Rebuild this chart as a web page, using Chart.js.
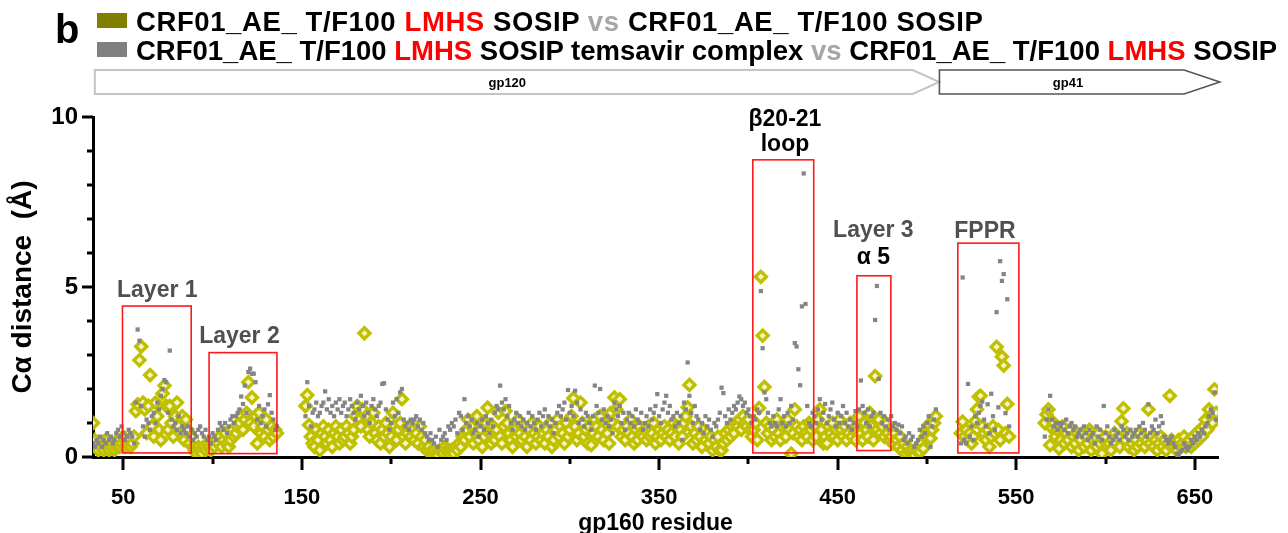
<!DOCTYPE html>
<html>
<head>
<meta charset="utf-8">
<script src="https://cdn.jsdelivr.net/npm/chart.js@4.4.1/dist/chart.umd.min.js"></script>
<style>
body{margin:0;background:#fff;width:1288px;height:533px;overflow:hidden;position:relative;font-family:"Liberation Sans",Arial,sans-serif;}
#wrap{position:absolute;left:0;top:0;width:1288px;height:533px;}
.panel{position:absolute;left:55px;top:9px;font-size:40px;font-weight:bold;line-height:1;}
.sw{position:absolute;left:97px;width:30px;height:15px;}
.leg{position:absolute;left:136px;font-size:27.5px;font-weight:bold;line-height:1;white-space:nowrap;color:#000;}
.leg .red{color:#ff0000;}
.leg .vs{color:#a6a6a6;}
</style>
</head>
<body>
<div id="wrap"><canvas id="myChart" width="1288" height="533"></canvas></div>
<div class="panel">b</div>
<div class="sw" style="top:13px;background:#808000"></div>
<div class="sw" style="top:42px;background:#808080"></div>
<div class="leg" style="top:8px;letter-spacing:0.6px">CRF01_AE_ T/F100 <span class="red">LMHS</span> SOSIP <span class="vs">vs</span> CRF01_AE_ T/F100 SOSIP</div>
<div class="leg" style="top:37px">CRF01_AE_ T/F100 <span class="red">LMHS</span> SOSIP temsavir complex <span class="vs">vs</span> CRF01_AE_ T/F100 <span class="red">LMHS</span> SOSIP</div>
<script>
// first residue of each continuous stretch
const segStart = [33, 152, 519, 566];

// LMHS SOSIP vs SOSIP (diamonds)
const yellowA = [
 1.0,0.5,0.3,0.2,0.4,0.3,0.2,0.5,0.3,0.2,
 0.3,0.4,0.2,0.3,0.5,0.3,0.4,0.6,0.3,0.4,
 0.5,0.3,0.4,0.6,1.35,1.55,2.85,3.25,1.6,1.4,
 0.7,1.5,2.41,0.9,0.6,1.6,1.2,0.8,0.5,1.87,
 2.1,1.5,0.8,1.5,1.0,0.6,1.2,1.6,0.9,0.7,
 1.2,0.5,1.1,0.8,0.4,0.6,0.3,0.2,0.1,0.3,
 0.2,0.1,0.3,0.2,0.4,0.3,0.2,0.4,0.3,0.5,
 0.4,0.6,0.3,0.5,0.7,0.4,0.3,0.5,0.8,0.6,
 0.7,0.9,1.0,1.2,0.8,1.1,1.3,2.2,1.0,1.75,
 0.9,1.2,0.4,1.3,0.7,0.9,0.6,1.1,0.8,0.5,
 0.9,0.6,0.8,0.7];
const yellowB = [
 1.5,1.82,0.94,0.6,0.4,0.3,0.8,0.5,0.2,0.7,
 0.9,0.6,0.4,0.8,0.5,0.3,0.7,0.9,0.6,0.4,
 0.8,0.5,0.6,0.9,0.7,0.4,0.6,0.8,1.2,1.5,
 1.1,0.9,1.4,3.64,1.2,0.8,0.6,1.0,1.3,0.7,
 0.5,0.9,0.4,0.8,0.6,1.0,0.7,0.3,0.6,1.3,
 0.9,0.5,0.8,1.0,1.7,0.6,0.4,0.7,0.9,0.6,
 0.8,0.5,0.7,0.4,0.9,0.6,0.3,0.5,0.2,0.3,
 0.15,0.1,0.2,0.1,0.05,0.2,0.15,0.1,0.3,0.2,
 0.1,0.2,0.15,0.1,0.3,0.2,0.4,0.3,0.6,0.5,
 0.8,1.1,0.6,0.9,0.4,0.7,1.2,0.5,0.8,0.3,
 0.6,1.0,1.45,0.7,0.4,0.9,0.5,0.8,1.3,0.6,
 0.4,0.9,1.35,1.0,0.7,0.5,0.3,0.8,0.6,1.1,
 0.7,0.5,0.9,0.6,0.3,0.8,0.5,1.0,0.7,0.4,
 0.6,0.9,0.5,0.7,0.4,0.8,0.6,1.0,0.3,0.5,
 0.8,1.1,0.6,0.9,0.7,0.4,1.0,0.6,0.8,1.2,
 1.73,0.9,0.5,0.7,1.6,1.0,0.6,0.8,0.4,0.9,
 0.35,0.7,1.1,0.89,0.6,1.2,0.8,0.5,1.0,0.7,
 0.4,1.3,1.0,1.75,1.4,0.9,1.7,0.6,0.8,0.5,
 0.9,0.7,1.1,0.6,0.4,0.8,0.5,0.9,0.7,0.6,
 0.8,0.5,0.9,0.6,0.7,1.0,0.4,0.6,0.8,0.5,
 0.7,0.9,0.6,0.8,0.5,0.7,1.0,0.6,0.9,0.4,
 0.8,0.6,1.0,1.2,1.46,2.12,0.9,0.4,0.7,0.5,
 0.9,0.6,0.3,0.8,0.5,0.7,0.4,0.6,0.2,0.5,
 0.3,0.6,0.2,0.2,0.4,0.7,0.5,0.8,0.6,0.9,
 0.7,1.0,0.9,1.1,0.8,1.2,1.0,0.9,1.1,0.8,
 0.6,0.8,1.0,0.5,1.44,5.3,3.57,2.06,1.0,0.7,
 0.9,0.5,0.8,0.6,1.1,0.7,0.5,0.9,1.0,0.6,
 1.1,0.8,0.1,0.7,1.4,0.9,0.6,0.8,0.5,0.9,
 0.7,0.6,1.0,0.8,0.5,0.9,0.6,1.1,1.4,0.8,
 0.4,0.6,0.4,0.9,0.7,1.0,0.6,0.8,0.5,1.1,
 0.8,0.6,0.9,0.5,0.7,1.0,0.6,0.8,0.5,0.9,
 1.2,0.7,0.5,1.0,0.8,0.6,1.3,0.9,0.5,2.38,
 0.8,1.1,0.7,0.9,0.6,1.0,0.7,0.5,0.6,0.4,
 0.7,0.5,0.3,0.6,0.2,0.4,0.1,0.3,0.15,0.2,
 0.1,0.05,0.2,0.3,0.15,0.4,0.25,0.6,0.75,0.95,
 0.55,0.8,1.0,1.2];
const yellowC = [
 0.7,1.04,0.6,0.8,0.5,0.7,0.4,0.6,1.05,1.4,
 1.77,1.8,0.9,0.7,0.5,0.8,0.3,0.6,0.9,0.7,
 3.24,0.8,0.5,2.95,2.69,0.7,1.56,0.6];
const yellowD = [
 1.0,1.25,1.4,0.35,0.85,1.0,0.6,0.8,0.25,0.5,
 0.9,0.4,0.7,0.5,0.8,0.3,0.6,0.4,0.7,0.2,
 0.5,0.7,0.3,0.6,0.4,0.8,0.2,0.5,0.6,0.3,
 0.7,0.4,0.1,0.5,0.6,0.3,0.4,0.2,0.5,0.7,
 0.4,0.6,0.3,1.05,1.43,0.5,0.7,0.3,0.6,0.4,
 0.2,0.5,0.3,0.7,0.4,0.6,0.3,0.5,1.4,0.4,
 0.6,0.3,0.5,0.2,0.4,0.6,0.3,0.5,0.2,0.4,
 1.8,0.5,0.3,0.4,0.2,0.5,0.3,0.4,0.6,0.3,
 0.4,0.5,0.3,0.6,0.4,0.7,0.5,0.8,0.6,0.9,
 1.1,0.8,1.4,1.2,1.0,1.99,1.3];

// temsavir complex vs LMHS SOSIP (squares)
const grayA = [
 0.4,0.3,0.5,0.4,0.6,0.3,0.5,0.4,0.7,0.5,
 0.6,0.4,0.5,0.7,0.8,0.6,0.9,0.7,0.5,0.6,
 0.8,0.7,0.6,0.4,1.6,3.75,3.42,1.5,0.9,0.6,
 1.1,1.0,0.8,1.2,1.3,1.0,1.6,1.4,1.8,2.0,
 2.26,2.2,1.3,3.13,1.1,0.9,1.0,0.8,1.2,0.7,
 0.9,0.8,0.7,0.9,0.6,0.8,0.5,0.7,0.6,0.8,
 0.9,0.7,0.6,0.8,0.5,0.6,0.4,0.7,0.6,0.5,
 0.8,1.0,0.9,0.8,1.0,0.7,0.9,1.1,1.2,1.0,
 1.2,1.3,1.4,1.78,1.56,2.1,1.3,2.5,2.6,2.45,
 2.45,2.2,1.1,1.5,1.0,1.2,1.4,0.9,1.55,1.82,
 1.3,1.1,0.8,0.9];
const grayB = [
 1.2,2.2,1.5,0.9,1.3,1.4,1.6,1.2,1.3,1.5,
 1.6,1.93,1.4,1.7,1.3,1.5,1.2,1.6,1.4,1.7,
 1.3,1.5,1.6,1.2,1.4,1.7,1.5,1.3,1.1,1.6,
 1.4,1.8,1.5,1.2,1.6,1.3,1.0,1.5,1.7,1.4,
 1.2,1.5,1.6,2.15,2.17,1.4,1.1,0.8,1.0,1.6,
 1.2,1.7,1.3,1.9,2.0,1.1,0.9,1.0,0.8,1.1,
 1.0,1.1,1.2,0.9,1.1,0.8,1.0,0.7,0.6,0.5,
 0.7,0.5,0.4,0.6,0.3,0.8,0.5,0.6,0.7,0.5,
 0.9,0.8,1.0,0.9,1.1,0.7,1.3,1.2,0.8,1.7,
 1.0,1.2,0.9,1.1,0.7,0.8,1.0,0.6,0.9,1.1,
 0.8,1.2,1.0,0.7,1.1,0.9,1.3,1.5,1.4,2.1,
 1.6,1.4,1.7,1.2,1.5,1.0,0.8,1.1,1.3,1.0,
 1.2,0.9,1.1,0.8,1.0,1.3,0.9,1.2,1.0,0.8,
 1.1,1.3,0.9,1.2,1.4,1.0,1.2,0.9,1.1,0.7,
 1.0,1.3,1.5,1.2,1.4,1.6,1.1,1.97,1.3,1.5,
 1.2,1.95,1.6,1.0,1.4,1.1,0.9,1.3,1.2,1.0,
 0.8,1.2,2.1,1.5,1.3,2.0,1.1,1.4,1.0,1.2,
 0.9,1.1,0.7,1.6,1.4,1.2,1.5,1.0,1.3,0.8,
 1.1,1.3,1.0,1.2,0.9,1.4,1.1,1.0,1.3,0.8,
 1.0,1.2,0.9,1.4,1.1,1.3,1.5,1.85,1.2,1.0,
 1.4,1.6,1.8,1.3,1.5,1.1,1.2,0.9,1.3,1.0,
 1.2,0.5,1.6,1.4,2.78,1.8,1.3,1.0,1.5,1.2,
 1.1,0.8,1.0,0.7,1.2,0.9,1.1,0.8,0.6,1.0,
 0.9,1.1,1.3,2.04,1.88,1.2,1.0,1.4,1.1,1.3,
 1.5,1.4,1.6,1.78,1.7,1.5,1.6,1.3,1.4,1.2,
 1.0,1.2,1.1,1.4,1.3,4.88,3.2,1.9,1.7,1.3,
 1.0,0.9,1.2,1.0,0.9,1.4,1.7,1.0,1.2,0.9,
 1.3,1.0,1.5,1.1,3.35,3.25,2.58,2.11,4.43,8.34,
 4.5,1.5,1.0,0.9,1.3,1.2,1.0,1.4,1.7,1.1,
 1.3,1.56,1.0,1.2,1.4,1.6,1.1,0.9,1.3,1.0,
 1.2,1.5,1.0,1.3,0.9,1.1,0.8,1.0,1.35,0.9,
 1.4,2.25,1.5,1.3,1.0,1.4,0.9,1.2,1.3,4.03,
 5.03,2.3,1.3,1.0,1.2,0.9,1.1,0.8,1.2,0.9,
 1.0,0.8,0.95,0.7,0.9,0.5,0.6,0.4,0.7,0.5,
 0.6,0.3,0.4,0.5,0.8,0.6,0.9,0.7,1.0,1.2,
 0.3,0.9,1.1,1.4];
const grayC = [
 0.4,5.28,0.5,0.4,2.15,0.6,0.9,0.5,1.2,1.0,
 1.3,1.5,1.63,1.1,0.9,1.55,0.7,1.86,1.2,0.8,
 4.26,1.46,5.76,5.18,5.38,1.29,4.64,0.9];
const grayD = [
 0.6,1.1,1.4,1.8,1.1,0.9,1.0,0.8,1.0,0.9,
 1.0,0.8,1.1,0.7,0.9,1.0,0.8,0.9,0.6,0.7,
 0.8,0.6,0.9,0.7,0.5,0.8,0.6,0.7,0.4,0.9,
 0.6,0.8,0.5,1.5,0.7,0.9,0.6,0.4,0.5,0.8,
 0.6,0.7,0.5,0.9,0.8,0.6,0.7,0.5,0.8,0.6,
 0.7,0.8,0.6,0.9,0.7,1.0,0.8,0.6,1.55,0.7,
 0.9,0.8,1.1,0.7,0.9,1.2,1.0,0.6,0.5,0.4,
 0.5,0.6,0.4,0.3,0.1,0.05,0.15,0.2,0.4,0.3,
 0.2,0.3,0.5,0.4,0.6,0.5,0.7,0.6,0.8,0.7,
 0.9,1.0,1.2,1.4,1.3,1.9,1.1];

const xTickVals = [50,100,150,200,250,300,350,400,450,500,550,600,650];
const xLabelVals = [50,150,250,350,450,550,650];
const yTickVals = [0,1,2,3,4,5,6,7,8,9,10];
const yLabelVals = [0,5,10];

// highlighted regions (residue span, distance span)
const regionFrom = [49.5, 98, 402.5, 460.8, 517.3];
const regionTo = [88, 136, 436.6, 479.8, 551.5];
const regionTop = [4.44, 3.07, 8.74, 5.33, 6.29];
const regionBottom = [0.12, 0.1, 0.12, 0.19, 0.12];

function toPoints(parts){
    let pts = [];
    for(let k = 0; k < parts.length; k++){
        for(let i = 0; i < parts[k].length; i++){
            pts.push({x: segStart[k] + i, y: parts[k][i]});
        }
    }
    return pts;
}

const yellowPts = toPoints([yellowA, yellowB, yellowC, yellowD]);
const grayPts = toPoints([grayA, grayB, grayC, grayD]);

const decor = {
    id: 'decor',
    afterDatasetsDraw(chart){
        const ctx = chart.ctx;
        const x = chart.scales.x, y = chart.scales.y;
        ctx.save();
        // red boxes
        ctx.strokeStyle = '#ff1a1a';
        ctx.lineWidth = 1.6;
        for(let i = 0; i < regionFrom.length; i++){
            let x0 = x.getPixelForValue(regionFrom[i]);
            let x1 = x.getPixelForValue(regionTo[i]);
            let y0 = y.getPixelForValue(regionTop[i]);
            let y1 = y.getPixelForValue(regionBottom[i]);
            ctx.strokeRect(x0, y0, x1 - x0, y1 - y0);
        }
        // region labels
        ctx.textAlign = 'center';
        ctx.textBaseline = 'middle';
        ctx.font = 'bold 23px "Liberation Sans", Arial, sans-serif';
        ctx.fillStyle = '#505050';
        ctx.fillText('Layer 1', x.getPixelForValue(69), y.getPixelForValue(4.88));
        ctx.fillText('Layer 2', x.getPixelForValue(115), y.getPixelForValue(3.53));
        ctx.fillText('Layer 3', x.getPixelForValue(470), y.getPixelForValue(6.65));
        ctx.fillText('FPPR', x.getPixelForValue(532.5), y.getPixelForValue(6.62));
        ctx.fillStyle = '#000000';
        ctx.fillText('\u03b220-21', x.getPixelForValue(420.5), y.getPixelForValue(9.91));
        ctx.fillText('loop', x.getPixelForValue(420.5), y.getPixelForValue(9.18));
        ctx.fillText('\u03b1 5', x.getPixelForValue(470), y.getPixelForValue(5.85));
        ctx.restore();
    },
    afterDraw(chart){
        const ctx = chart.ctx;
        const x = chart.scales.x, y = chart.scales.y;
        const a = chart.chartArea;
        ctx.save();
        // tick marks, long at labelled values
        ctx.strokeStyle = '#000';
        ctx.lineWidth = 3;
        ctx.beginPath();
        xTickVals.forEach(function(v){
            let px = Math.round(x.getPixelForValue(v));
            let len = xLabelVals.includes(v) ? 13 : 7;
            ctx.moveTo(px, a.bottom); ctx.lineTo(px, a.bottom + len);
        });
        yTickVals.forEach(function(v){
            let py = Math.round(y.getPixelForValue(v));
            let len = yLabelVals.includes(v) ? 11 : 6;
            ctx.moveTo(a.left, py); ctx.lineTo(a.left - len, py);
        });
        ctx.stroke();

        // gp120 / gp41 arrows
        const top = 70, bot = 94, mid = 82;
        function arrow(from, body, tip, color, width, label, labelAt){
            let x0 = x.getPixelForValue(from), xb = x.getPixelForValue(body), xt = x.getPixelForValue(tip);
            ctx.beginPath();
            ctx.moveTo(x0, top); ctx.lineTo(xb, top); ctx.lineTo(xt, mid);
            ctx.lineTo(xb, bot); ctx.lineTo(x0, bot); ctx.closePath();
            ctx.strokeStyle = color; ctx.lineWidth = width; ctx.stroke();
            ctx.fillStyle = '#000';
            ctx.font = 'bold 13px "Liberation Sans", Arial, sans-serif';
            ctx.textAlign = 'center'; ctx.textBaseline = 'middle';
            ctx.fillText(label, x.getPixelForValue(labelAt), mid + 1);
        }
        arrow(34, 492, 507, '#c4c4c4', 2, 'gp120', 265);
        arrow(507, 644, 664, '#555555', 1.6, 'gp41', 579);
        ctx.restore();
    }
};

const ctx = document.getElementById('myChart');
const myChart = new Chart(ctx, {
    type: 'scatter',
    data: {
        datasets: [{
            label: 'temsavir complex vs LMHS SOSIP',
            data: grayPts,
            pointStyle: 'rect',
            pointRadius: 3,
            backgroundColor: '#858585',
            borderColor: '#858585',
            borderWidth: 0,
            order: 0
        },{
            label: 'LMHS SOSIP vs SOSIP',
            data: yellowPts,
            pointStyle: 'rectRot',
            pointRadius: 5.5,
            backgroundColor: '#f4f4c8',
            borderColor: '#c0c000',
            borderWidth: 3.4,
            order: 1
        }]
    },
    options: {
        responsive: false,
        animation: false,
        events: [],
        layout: { padding: { left: 0, top: 117, right: 70, bottom: 0 } },
        plugins: { legend: { display: false }, tooltip: { enabled: false } },
        scales: {
            x: {
                type: 'linear', min: 33, max: 663,
                afterBuildTicks: function(s){ s.ticks = xTickVals.map(v => ({value: v})); },
                afterFit: function(s){ s.height = 76; },
                grid: { display: false, drawTicks: false },
                border: { display: true, color: '#000', width: 3 },
                ticks: {
                    autoSkip: false, maxRotation: 0, padding: 28, color: '#000',
                    font: { family: '"Liberation Sans", Arial, sans-serif', size: 22, weight: 'bold' },
                    callback: v => xLabelVals.includes(v) ? String(v) : ''
                },
                title: {
                    display: true, text: 'gp160 residue', color: '#000',
                    font: { family: '"Liberation Sans", Arial, sans-serif', size: 23, weight: 'bold' },
                    padding: { top: 0, bottom: -4 }
                }
            },
            y: {
                min: 0, max: 10,
                afterBuildTicks: function(s){ s.ticks = yTickVals.map(v => ({value: v})); },
                afterFit: function(s){ s.width = 93; },
                grid: { display: false, drawTicks: false },
                border: { display: true, color: '#000', width: 3 },
                ticks: {
                    autoSkip: false, padding: 15, color: '#000',
                    font: { family: '"Liberation Sans", Arial, sans-serif', size: 24, weight: 'bold' },
                    callback: v => yLabelVals.includes(v) ? String(v) : ''
                },
                title: {
                    display: true, text: 'C\u03b1 distance  (\u00c5)', color: '#000',
                    font: { family: '"Liberation Sans", Arial, sans-serif', size: 28, weight: 'bold' },
                    padding: { top: 6, bottom: 0 }
                }
            }
        }
    },
    plugins: [decor]
});
</script>
</body>
</html>
